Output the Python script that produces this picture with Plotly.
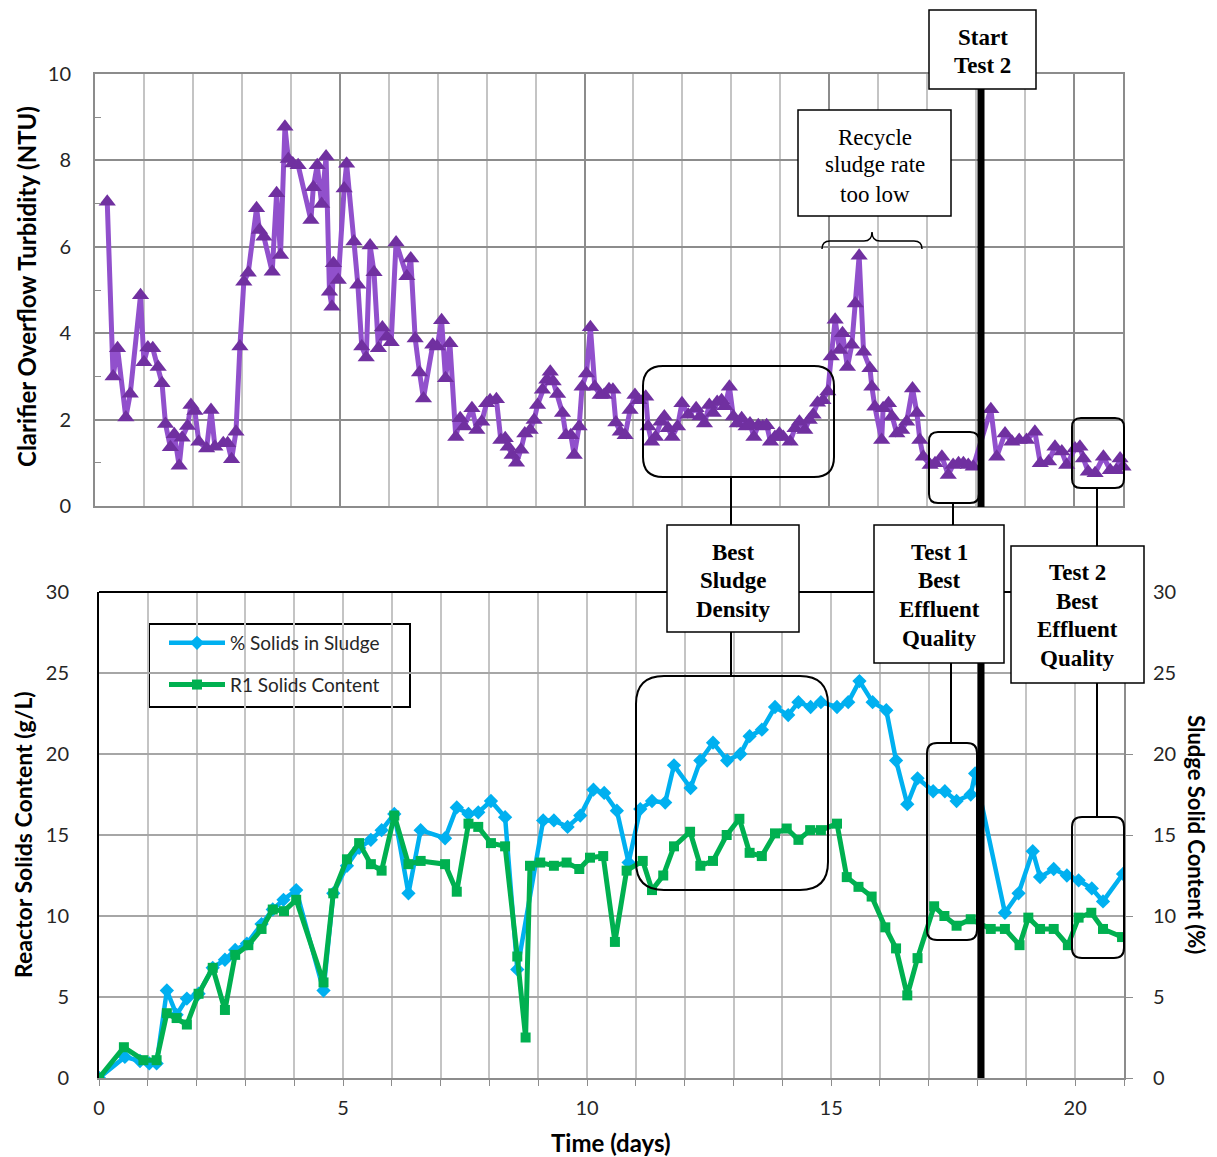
import plotly.graph_objects as go

# page is offset by the 8px default body margin; figure covers (8,8)-(1217,1157)
OFF = 8
W, H = 1217 - OFF, 1157 - OFF

# ---------------- data ----------------
turb_day = [0.25,0.37,0.46,0.63,0.72,0.93,1.00,1.08,1.18,1.29,
            1.37,1.44,1.54,1.62,1.72,1.78,1.89,1.96,2.04,2.12,
            2.28,2.37,2.45,2.62,2.71,2.79,2.88,2.96,3.04,3.13,
            3.30,3.36,3.45,3.62,3.71,3.79,3.88,3.95,4.04,4.15,
            4.41,4.46,4.54,4.63,4.72,4.79,4.84,4.87,4.97,5.09,
            5.14,5.29,5.37,5.45,5.54,5.62,5.70,5.79,5.87,5.96,
            6.05,6.15,6.37,6.45,6.54,6.63,6.71,6.90,6.99,7.08,
            7.16,7.25,7.37,7.46,7.54,7.70,7.80,7.90,8.00,8.07,
            8.20,8.29,8.38,8.44,8.52,8.61,8.70,8.78,8.89,8.97,
            9.04,9.14,9.23,9.30,9.36,9.45,9.55,9.62,9.72,9.79,
            9.89,9.95,10.04,10.12,10.21,10.32,10.40,10.50,10.58,10.64,
            10.73,10.83,10.93,11.03,11.11,11.25,11.30,11.37,11.45,11.56,
            11.63,11.71,11.79,11.90,11.99,12.12,12.28,12.36,12.45,12.55,
            12.63,12.71,12.80,12.87,12.96,13.04,13.12,13.21,13.30,13.38,
            13.46,13.55,13.64,13.72,13.80,13.89,13.98,14.06,14.20,14.30,
            14.39,14.50,14.59,14.67,14.76,14.87,14.97,15.04,15.12,15.21,
            15.27,15.37,15.46,15.53,15.61,15.70,15.83,15.87,15.93,16.07,
            16.10,16.21,16.28,16.38,16.48,16.58,16.70,16.79,16.85,16.92,
            17.06,17.16,17.30,17.43,17.53,17.64,17.74,17.84,17.94,18.30,
            18.42,18.59,18.73,18.88,19.03,19.20,19.31,19.48,19.61,19.75,
            19.85,20.02,20.12,20.19,20.29,20.43,20.60,20.74,20.86,20.94,21.0]
turb_ntu = [7.04,3.0,3.65,2.05,2.6,4.88,3.33,3.67,3.65,3.22,
            2.84,1.9,1.36,1.66,0.93,1.58,1.85,2.34,2.2,1.49,
            1.33,2.22,1.37,1.45,1.45,1.08,1.72,3.69,5.19,5.4,
            6.89,6.39,6.23,5.42,7.24,5.81,8.78,8.03,7.93,7.89,
            6.62,7.38,7.89,6.99,8.09,4.96,4.61,5.62,5.23,7.35,
            7.92,6.12,5.12,3.69,3.44,6.03,5.41,3.65,4.13,3.92,
            3.79,6.1,5.32,5.73,3.88,3.09,2.49,3.73,3.69,4.3,
            2.96,3.77,1.6,2.03,1.84,2.26,1.76,1.95,2.38,2.45,
            2.47,1.53,1.57,1.37,1.18,1.0,1.3,1.68,1.76,1.99,
            2.34,2.69,2.92,3.11,2.88,2.59,2.15,1.64,1.64,1.18,
            1.84,2.76,3.07,4.14,2.76,2.57,2.57,2.7,2.69,1.93,
            1.72,1.64,2.22,2.57,2.45,2.53,1.84,1.49,1.6,1.95,
            2.07,1.8,1.6,1.84,2.38,2.11,2.26,2.07,1.91,2.34,
            2.15,2.41,2.45,2.31,2.76,2.07,1.91,2.03,1.84,1.91,
            1.6,1.87,1.84,1.87,1.49,1.6,1.68,1.6,1.49,1.8,
            1.95,1.76,1.99,2.11,2.39,2.45,2.65,3.46,4.31,3.61,
            4.0,3.22,3.73,4.69,5.79,3.57,3.19,2.76,2.3,1.53,
            2.26,2.38,2.07,1.68,1.76,1.95,2.72,2.15,1.53,1.14,
            0.95,0.99,1.14,0.72,0.95,0.99,0.99,0.95,0.91,2.24,
            1.14,1.68,1.49,1.53,1.53,1.72,0.99,1.03,1.37,1.26,
            0.95,1.33,1.37,1.1,0.79,0.76,1.14,0.83,0.83,1.1,0.91]

sludge_day = [0,0.53,0.84,1.03,1.18,1.39,1.59,1.80,2.04,2.33,
              2.58,2.79,3.03,3.33,3.56,3.78,4.04,4.60,4.80,5.08,
              5.33,5.57,5.79,6.05,6.34,6.59,7.09,7.33,7.57,7.77,
              8.03,8.32,8.57,9.10,9.32,9.60,9.86,10.13,10.35,10.61,
              10.85,11.09,11.33,11.60,11.78,12.12,12.32,12.58,12.87,13.14,
              13.33,13.58,13.85,14.12,14.33,14.58,14.79,15.12,15.35,15.58,
              15.85,16.13,16.33,16.56,16.77,17.09,17.33,17.57,17.86,17.95,
              18.56,18.84,19.13,19.28,19.56,19.83,20.07,20.34,20.57,20.98]
sludge_pct = [0,1.3,1.05,0.9,0.9,5.4,3.9,4.9,5.2,6.8,
              7.3,7.9,8.3,9.5,10.4,11.0,11.6,5.4,11.4,13.1,
              14.2,14.7,15.3,16.3,11.4,15.3,14.8,16.7,16.3,16.4,
              17.1,16.1,6.7,15.9,15.9,15.5,16.2,17.8,17.6,16.5,
              13.3,16.6,17.1,17.0,19.3,17.9,19.6,20.7,19.6,20.0,
              21.1,21.5,22.9,22.4,23.2,22.9,23.2,22.9,23.2,24.5,
              23.2,22.7,19.6,16.9,18.5,17.7,17.7,17.1,17.5,18.8,
              10.2,11.4,14.0,12.4,12.9,12.5,12.2,11.7,10.9,12.6]

r1_day = [0,0.51,0.91,1.18,1.39,1.59,1.80,2.04,2.33,2.58,
          2.79,3.06,3.33,3.56,3.79,4.04,4.60,4.80,5.08,5.33,
          5.57,5.79,6.05,6.34,6.59,7.09,7.33,7.57,7.77,8.03,
          8.32,8.57,8.74,8.83,9.04,9.32,9.58,9.84,10.06,10.33,
          10.57,10.81,11.14,11.33,11.56,11.78,12.11,12.32,12.58,12.86,
          13.12,13.33,13.58,13.85,14.09,14.33,14.57,14.79,15.12,15.32,
          15.56,15.83,16.11,16.33,16.56,16.77,17.11,17.32,17.57,17.86,
          18.27,18.56,18.86,19.04,19.28,19.56,19.85,20.07,20.33,20.57,
          20.96]
r1_gl = [0,1.9,1.1,1.1,4.0,3.7,3.3,5.2,6.8,4.2,
         7.6,8.2,9.2,10.4,10.3,11.0,5.9,11.4,13.5,14.5,
         13.2,12.8,16.2,13.2,13.4,13.2,11.5,15.7,15.5,14.5,
         14.3,7.5,2.5,13.1,13.3,13.1,13.3,12.9,13.6,13.7,
         8.4,12.8,13.4,11.6,12.5,14.3,15.2,13.1,13.4,15.0,
         16.0,13.9,13.7,15.1,15.4,14.7,15.3,15.3,15.7,12.4,
         11.8,11.2,9.3,8.0,5.1,7.4,10.6,10.0,9.4,9.8,
         9.2,9.2,8.2,9.9,9.2,9.2,8.2,9.9,10.2,9.2,
         8.7]

x_ticks = [0, 5, 10, 15, 20]

# ---------------- helpers (page pixel -> paper fraction) ----------------
def px(x):
    return (x - OFF) / W

def py(y):
    return 1 - (y - OFF) / H

SANS = "Lato"
SERIF = "Liberation Serif"

fig = go.Figure()

fig.add_trace(go.Scatter(
    x=turb_day, y=turb_ntu, mode="lines+markers", xaxis="x", yaxis="y",
    line=dict(color="#9150CC", width=5),
    marker=dict(symbol="triangle-up", size=15, color="#7030A0"),
    showlegend=False, cliponaxis=False, name="Turbidity"))

fig.add_trace(go.Scatter(
    x=sludge_day, y=sludge_pct, mode="lines+markers", xaxis="x2", yaxis="y2",
    line=dict(color="#00B0F0", width=4.5),
    marker=dict(symbol="diamond", size=11, color="#00B0F0"),
    name="% Solids in Sludge", legendgroup="a"))

fig.add_trace(go.Scatter(
    x=r1_day, y=r1_gl, mode="lines+markers", xaxis="x2", yaxis="y2",
    line=dict(color="#00B050", width=5),
    marker=dict(symbol="square", size=10, color="#00B050"),
    name="R1 Solids Content", legendgroup="b"))

# dummy trace to activate right axis
fig.add_trace(go.Scatter(x=[None], y=[None], xaxis="x2", yaxis="y3",
                         showlegend=False, hoverinfo="skip"))

tickfont = dict(family=SANS, size=20, color="#262626")

fig.update_layout(
    width=W, height=H, margin=dict(l=0, r=0, t=0, b=0, pad=0, autoexpand=False),
    paper_bgcolor="white", plot_bgcolor="white",
    showlegend=True,
    legend=dict(x=px(164), y=py(624), xanchor="left", yanchor="top",
                borderwidth=0, bgcolor="rgba(0,0,0,0)",
                font=dict(family=SANS, size=19, color="#262626"),
                itemwidth=56, tracegroupgap=14, traceorder="grouped"),
    xaxis=dict(domain=[px(95), px(1123)], anchor="y", range=[0, 21],
               showticklabels=False, dtick=5, tick0=0,
               showgrid=True, gridcolor="#8c8c8c", gridwidth=1.5,
               minor=dict(dtick=1, showgrid=True, gridcolor="#c4c4c4", gridwidth=1.5),
               zeroline=False, showline=True, linecolor="#8c8c8c", linewidth=2,
               mirror=True, ticks=""),
    yaxis=dict(domain=[py(506), py(74)], anchor="x", range=[0, 10], dtick=2,
               showgrid=True, gridcolor="#8c8c8c", gridwidth=1.5,
               zeroline=False, showline=True, linecolor="#8c8c8c", linewidth=2,
               mirror=True, ticks="inside", ticklen=6, tickcolor="#8c8c8c",
               minor=dict(dtick=1, ticks="inside", ticklen=6, tickcolor="#8c8c8c",
                          showgrid=False),
               tickfont=tickfont, ticklabelstandoff=18),
    xaxis2=dict(domain=[px(99), px(1124)], anchor="y2", range=[0, 21],
                tickvals=x_ticks, ticktext=[str(t) for t in x_ticks],
                showgrid=True, gridcolor="#c4c4c4", gridwidth=1.5,
                minor=dict(dtick=1, showgrid=True, gridcolor="#c4c4c4", gridwidth=1.5,
                           ticks="outside", ticklen=6, tickcolor="#8c8c8c"),
                ticks="outside", ticklen=6, tickcolor="#8c8c8c",
                zeroline=False, showline=True, linecolor="#8c8c8c", linewidth=2,
                tickfont=tickfont, ticklabelstandoff=5),
    yaxis2=dict(domain=[py(1078), py(592)], anchor="x2", range=[0, 30], dtick=5,
                showgrid=True, gridcolor="#a6a6a6", gridwidth=1.5,
                zeroline=False, showline=True, linecolor="black", linewidth=2,
                ticks="", tickfont=tickfont, ticklabelstandoff=24),
    yaxis3=dict(overlaying="y2", side="right", anchor="x2", range=[0, 30], dtick=5,
                showgrid=False, zeroline=False, showline=True,
                linecolor="#8c8c8c", linewidth=2,
                ticks="outside", ticklen=7, tickcolor="#8c8c8c",
                tickfont=tickfont, ticklabelstandoff=16),
)

shapes = []
annots = []

# legend frame (white, between gridlines and traces)
shapes.append(dict(type="rect", xref="paper", yref="paper",
                   x0=px(149), y0=py(624), x1=px(410), y1=py(707),
                   line=dict(color="black", width=2), fillcolor="white",
                   layer="between"))

def line(x0, y0, x1, y1, width=2, color="black"):
    shapes.append(dict(type="line", xref="paper", yref="paper",
                       x0=px(x0), y0=py(y0), x1=px(x1), y1=py(y1),
                       line=dict(color=color, width=width), layer="above"))

def rrect(x0, y0, x1, y1, r, width=2):
    p = (f"M {px(x0+r)},{py(y0)} L {px(x1-r)},{py(y0)} "
         f"Q {px(x1)},{py(y0)} {px(x1)},{py(y0+r)} L {px(x1)},{py(y1-r)} "
         f"Q {px(x1)},{py(y1)} {px(x1-r)},{py(y1)} L {px(x0+r)},{py(y1)} "
         f"Q {px(x0)},{py(y1)} {px(x0)},{py(y1-r)} L {px(x0)},{py(y0+r)} "
         f"Q {px(x0)},{py(y0)} {px(x0+r)},{py(y0)} Z")
    shapes.append(dict(type="path", xref="paper", yref="paper", path=p,
                       line=dict(color="black", width=width), layer="above"))

def box(x0, y0, x1, y1, lines, ys, bold, size=23):
    shapes.append(dict(type="rect", xref="paper", yref="paper",
                       x0=px(x0), y0=py(y0), x1=px(x1), y1=py(y1),
                       line=dict(color="black", width=1.5), fillcolor="white",
                       layer="above"))
    cx = (x0 + x1) / 2
    for t, yy in zip(lines, ys):
        txt = f"<b>{t}</b>" if bold else t
        annots.append(dict(xref="paper", yref="paper", x=px(cx), y=py(yy),
                           text=txt, showarrow=False, xanchor="center", yanchor="middle",
                           font=dict(family=SERIF, size=size, color="black")))

# top border of lower chart
line(99, 592, 1124, 592, width=2)

# thick "Start Test 2" line
line(981, 89, 981, 507, width=7)
line(981, 592, 981, 1078, width=7)

# rounded highlight boxes
rrect(643, 366, 834, 477, 20)
rrect(636, 676, 828, 890, 28)
rrect(929, 432, 979, 503, 9)
rrect(927, 743, 977, 940, 10)
rrect(1072, 418, 1124, 488, 9)
rrect(1072, 817, 1124, 958, 10)

# connector lines
line(731, 477, 731, 525)
line(731, 632, 731, 676)
line(953, 503, 953, 525)
line(951, 663, 951, 743)
line(1097, 488, 1097, 546)
line(1097, 683, 1097, 817)

# curly brace
b = (f"M {px(822)},{py(249)} Q {px(822)},{py(241)} {px(830)},{py(241)} "
     f"L {px(864)},{py(241)} Q {px(872)},{py(241)} {px(872)},{py(232)} "
     f"Q {px(872)},{py(241)} {px(880)},{py(241)} L {px(914)},{py(241)} "
     f"Q {px(922)},{py(241)} {px(922)},{py(249)}")
shapes.append(dict(type="path", xref="paper", yref="paper", path=b,
                   line=dict(color="black", width=1.5), layer="above"))

# text boxes
box(929, 10, 1036, 89, ["Start", "Test 2"], [37, 66], True, 23)
box(798, 110, 951, 216, ["Recycle", "sludge rate", "too low"], [137, 165, 194], False, 23)
box(667, 525, 799, 632, ["Best", "Sludge", "Density"], [552, 581, 609], True, 23)
box(874, 525, 1004, 663, ["Test 1", "Best", "Effluent", "Quality"], [552, 581, 609, 638], True, 23)
box(1011, 546, 1144, 683, ["Test 2", "Best", "Effluent", "Quality"], [572, 601, 629, 658], True, 23)

# axis titles
def tfont(s):
    return dict(family=SANS, size=s, color="black")

annots.append(dict(xref="paper", yref="paper", x=px(26), y=py(287),
                   text="<b>Clarifier Overflow Turbidity (NTU)</b>", showarrow=False,
                   textangle=-90, xanchor="center", yanchor="middle", font=tfont(24)))
annots.append(dict(xref="paper", yref="paper", x=px(23), y=py(835),
                   text="<b>Reactor Solids Content (g/L)</b>", showarrow=False,
                   textangle=-90, xanchor="center", yanchor="middle", font=tfont(23)))
annots.append(dict(xref="paper", yref="paper", x=px(1197), y=py(834),
                   text="<b>Sludge Solid Content (%)</b>", showarrow=False,
                   textangle=90, xanchor="center", yanchor="middle", font=tfont(22)))
annots.append(dict(xref="paper", yref="paper", x=px(611), y=py(1142),
                   text="<b>Time (days)</b>", showarrow=False,
                   xanchor="center", yanchor="middle", font=tfont(24)))

fig.update_layout(shapes=shapes, annotations=annots)

fig.write_html("out.html")
